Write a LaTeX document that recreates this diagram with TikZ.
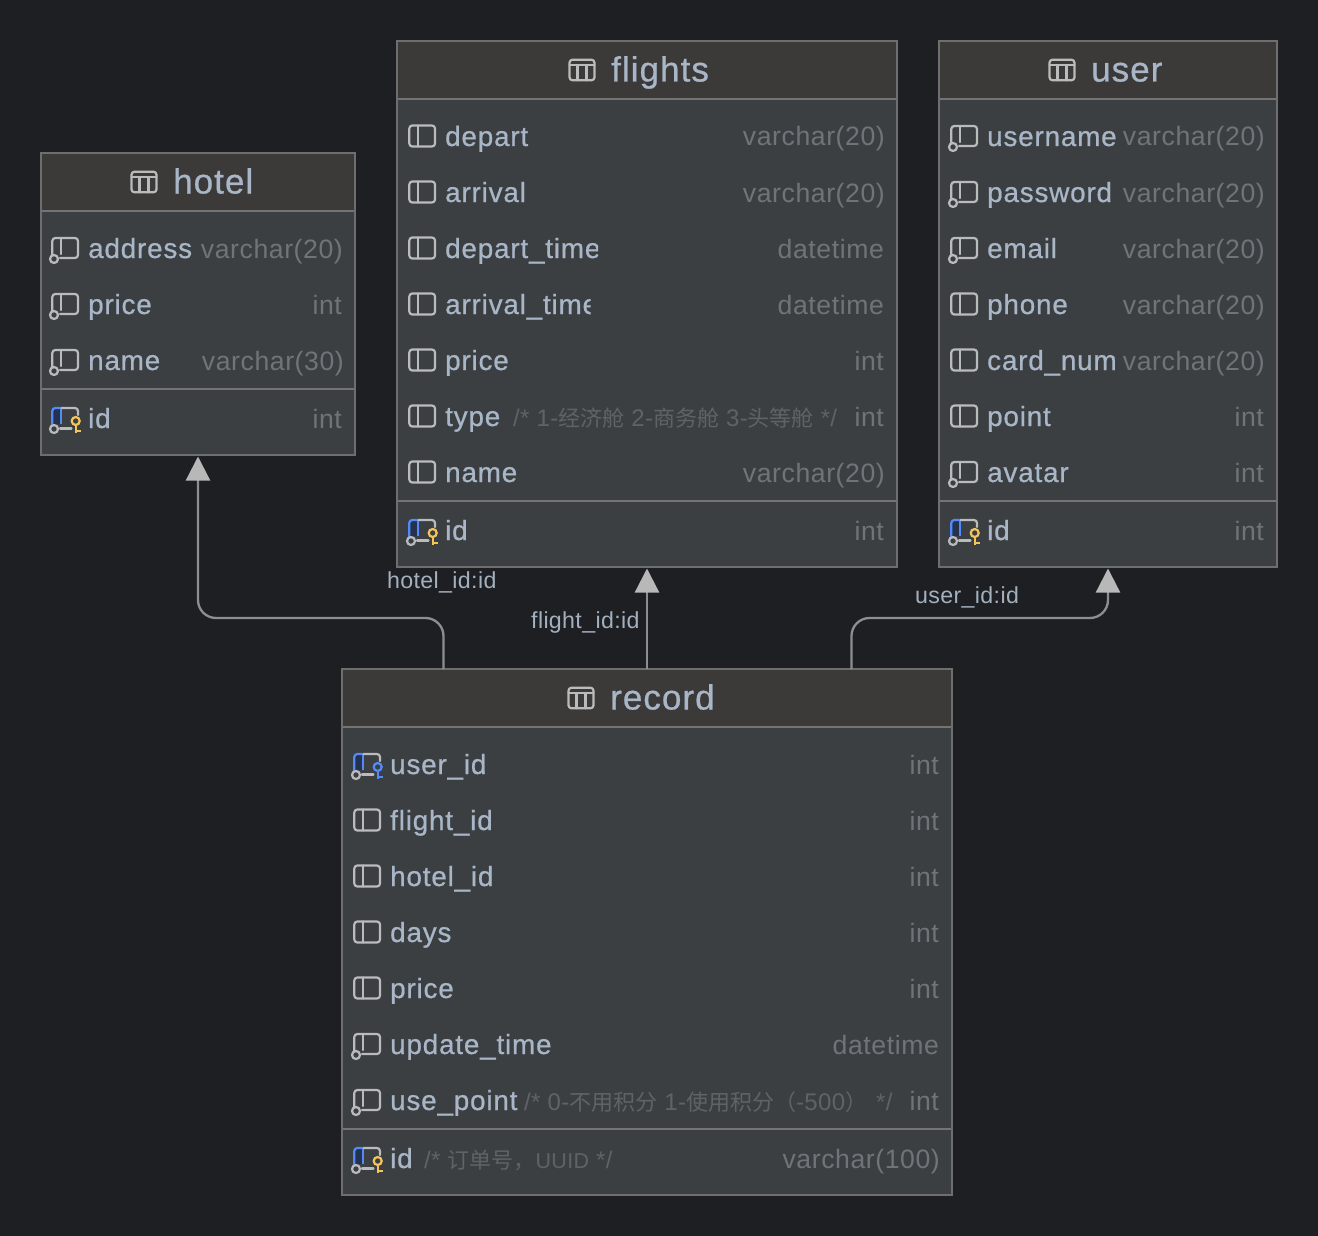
\documentclass[tikz,border=0pt]{standalone}
\usepackage{fontspec}
\usetikzlibrary{arrows.meta,calc}
\setmainfont{Liberation Sans}[LetterSpace=1.5]
\newfontfamily\cjk{Noto Sans CJK SC}
\newfontfamily\heavy{Liberation Sans}[LetterSpace=3,FakeBold=0.7]
\newfontfamily\typef{Liberation Sans}[LetterSpace=2.2]
\newfontfamily\lat{Liberation Sans}[LetterSpace=1.5]
\definecolor{bgc}{HTML}{1E1F22}
\definecolor{bodyc}{HTML}{3C3F42}
\definecolor{headc}{HTML}{3B3A39}
\definecolor{edgec}{HTML}{6E6E6E}
\definecolor{sepc}{HTML}{747474}
\definecolor{namec}{HTML}{A8B6C7}
\definecolor{typec}{HTML}{70747A}
\definecolor{notec}{HTML}{5F6368}
\definecolor{labelc}{HTML}{A3B0BF}
\definecolor{iconc}{HTML}{BABBBD}
\definecolor{bluec}{HTML}{548AF7}
\definecolor{bluef}{HTML}{25324D}
\definecolor{keyc}{HTML}{F2C55C}
\definecolor{linec}{HTML}{8E8E8E}
\definecolor{tipc}{HTML}{B8B8B8}
\tikzset{
  x=1pt,y=-1pt,
  tablebox/.style={draw=edgec,fill=bodyc,line width=2pt,rectangle,inner sep=0pt,outer sep=0pt},
  ttl/.style={anchor=base west,inner sep=0pt,text=namec,font=\fontsize{35}{38}\heavy},
  colname/.style={anchor=base west,inner sep=0pt,text=namec,font=\fontsize{27.8}{32}\heavy},
  coltype/.style={anchor=base east,inner sep=0pt,text=typec,font=\fontsize{26.6}{32}\typef},
  colnote/.style={anchor=base west,inner sep=0pt,text=notec,font=\fontsize{24}{30}\lat},
  linklabel/.style={anchor=base west,inner sep=0pt,text=labelc,font=\fontsize{23.2}{30}\lat},
  ic/.style={draw=iconc,line width=2.2pt,line cap=round,line join=round},
  link/.style={draw=linec,line width=2.3pt,-{Triangle[width=24pt,length=24pt,color=tipc,fill=tipc]},shorten >=1.5pt},
}
\newcounter{nn}
\newcommand\icoplain[2]{\begin{scope}[shift={(#1,#2)}]
  \draw[ic,rounded corners=3pt] (1.3,-11.5) rectangle (27,9.5);
  \draw[ic] (9.7,-11.5) -- (9.7,9.5);
\end{scope}}
\newcommand\iconull[2]{\begin{scope}[shift={(#1,#2)}]
  \draw[ic,rounded corners=3pt] (1.3,6) -- (1.3,-11) -- (27,-11) -- (27,9) -- (9,9);
  \draw[ic] (9.7,-11) -- (9.7,5);
  \draw[ic,fill=bodyc] (3,10) circle[radius=4];
\end{scope}}
\newcommand\icokey[4]{\begin{scope}[shift={(#1,#2)}]
  \fill[bluef] (1.3,-10) rectangle (9.7,5);
  \draw[draw=bluec,line width=2.2pt,rounded corners=3pt] (1.3,6) -- (1.3,-11) -- (9.7,-11);
  \draw[draw=bluec,line width=2.2pt] (9.7,-11) -- (9.7,5);
  \draw[ic,rounded corners=3pt] (10.5,-11) -- (27,-11) -- (27,-4);
  \draw[ic] (9,9.5) -- (20.5,9.5);
  \draw[ic,fill=bodyc] (3,10) circle[radius=4];
  \draw[draw=#3,line width=2.2pt,fill=#4] (24.7,2) circle[radius=4];
  \draw[draw=#3,line width=2.2pt] (24.7,6) -- (24.7,14) (24.7,12.3) -- (30,12.3);
\end{scope}}
\newcommand\tbl[9]{% name x1 y1 x2 y2 ysep iconx titlex title
  \node[tablebox,minimum width=\the\numexpr#4-#2\relax pt,minimum height=\the\numexpr#5-#3\relax pt] (#1) at ({(#2+#4)/2},{(#3+#5)/2}) {};
  \fill[headc] (#2+1,#3+1) rectangle (#4-1,#3+57);
  \draw[sepc,line width=2pt] (#2+1,#3+58) -- (#4-1,#3+58);
  \draw[sepc,line width=2pt] (#2+1,#6) -- (#4-1,#6);
  \begin{scope}[shift={(#7,#3+29)}]
    \draw[ic,rounded corners=3pt] (1,-10.3) rectangle (26,10.3);
    \draw[ic] (1,-5) -- (26,-5) (9,-5) -- (9,10.3) (18,-5) -- (18,10.3);
  \end{scope}
  \node[ttl] (#1-title) at (#8,#3+40.5) {#9};
}
\newcommand\namedrow[6]{% icon-code textx y name typex type
  \stepcounter{nn}%
  \node[colname] (col\thenn) at (#2,#3+9) {#4};
  \node[coltype] (typ\thenn) at (#5,#3+9) {#6};
  \pgfmathsetmacro\ix{#2-37}
  \csname ico#1\endcsname{\ix}{#3}
}
\newcommand\cutrow[7]{% as \namedrow, last: x where the name is cut
  \stepcounter{nn}%
  \begin{scope}
    \clip (#2-2,#3-24) rectangle (#7,#3+24);
    \node[colname] (col\thenn) at (#2,#3+9) {#4};
  \end{scope}
  \node[coltype] (typ\thenn) at (#5,#3+9) {#6};
  \pgfmathsetmacro\ix{#2-37}
  \csname ico#1\endcsname{\ix}{#3}
}
\newcommand\pkrow[5]{\stepcounter{nn}%
  \node[colname] (col\thenn) at (#1,#2+9) {#3};
  \node[coltype] (typ\thenn) at (#4,#2+9) {#5};
  \pgfmathsetmacro\ix{#1-37}
  \icokey{\ix}{#2}{keyc}{bodyc}
}
\newcommand\note[3]{\stepcounter{nn}\node[colnote] (note\thenn) at (#1,#2+9) {#3};}
\newcommand\hz[1]{{\cjk\fontsize{22}{26}\selectfont #1}}
\begin{document}
\begin{tikzpicture}
\useasboundingbox (0,0) rectangle (1318,1236);
\fill[bgc] (0,0) rectangle (1318,1236);

\tbl{hotel}{41}{153}{355}{455}{389}{130.5}{173}{hotel}
\namedrow{null}{88}{249}{address}{343}{varchar(20)}
\namedrow{null}{88}{305}{price}{342}{int}
\namedrow{null}{88}{361}{name}{344}{varchar(30)}
\pkrow{88}{419}{id}{342}{int}

\tbl{flights}{397}{41}{897}{567}{501}{568.5}{611}{flights}
\namedrow{plain}{445}{137}{depart}{885}{varchar(20)}
\cutrow{plain}{445}{193}{arrival}{885}{varchar(20)}{524.5}
\cutrow{plain}{445}{249}{depart\_time}{884}{datetime}{598}
\cutrow{plain}{445}{305}{arrival\_time}{884}{datetime}{590.5}
\namedrow{plain}{445}{361}{price}{884}{int}
\namedrow{plain}{445}{417}{type}{884}{int}
\note{513}{417}{/* 1-\hz{经济舱} 2-\hz{商务舱} 3-\hz{头等舱} */}
\namedrow{plain}{445}{473}{name}{885}{varchar(20)}
\pkrow{445}{531}{id}{884}{int}

\tbl{user}{939}{41}{1277}{567}{501}{1048.5}{1091}{user}
\namedrow{null}{987}{137}{username}{1265}{varchar(20)}
\namedrow{null}{987}{193}{password}{1265}{varchar(20)}
\namedrow{null}{987}{249}{email}{1265}{varchar(20)}
\namedrow{plain}{987}{305}{phone}{1265}{varchar(20)}
\namedrow{plain}{987}{361}{card\_num}{1265}{varchar(20)}
\namedrow{plain}{987}{417}{point}{1264}{int}
\namedrow{null}{987}{473}{avatar}{1264}{int}
\pkrow{987}{531}{id}{1264}{int}

\tbl{record}{342}{669}{952}{1195}{1129}{567.5}{610}{record}
\node[colname] (fkname) at (390,765+9) {user\_id};
\node[coltype] (fktype) at (939,765+9) {int};
\icokey{353}{765}{bluec}{bodyc}
\namedrow{plain}{390}{821}{flight\_id}{939}{int}
\namedrow{plain}{390}{877}{hotel\_id}{939}{int}
\namedrow{plain}{390}{933}{days}{939}{int}
\namedrow{plain}{390}{989}{price}{939}{int}
\namedrow{null}{390}{1045}{update\_time}{939}{datetime}
\namedrow{null}{390}{1101}{use\_point}{939}{int}
\note{524}{1101}{/* 0-\hz{不用积分} 1-\hz{使用积分（}-500\hz{）}\hspace{2pt} */}
\pkrow{390}{1159}{id}{940}{varchar(100)}
\note{424}{1159}{/* \hz{订单号，}{\fontsize{21.5}{26}\selectfont UUID} */}

\draw[link,rounded corners=18pt] ($(record.north west)+(101.5,0)$) coordinate (hout) -- (hout |- 0,618) -- (hotel.south |- 0,618) -- (hotel.south);
\draw[link] (record.north) -- (flights.south);
\draw[link,rounded corners=18pt] ($(record.north west)+(509.5,0)$) coordinate (uout) -- (uout |- 0,618) -- (user.south |- 0,618) -- (user.south);

\node[linklabel] (lhotel) at (387,588) {hotel\_id:id};
\node[linklabel] (lflight) at (531,628) {flight\_id:id};
\node[linklabel] (luser) at (915,603) {user\_id:id};
\end{tikzpicture}
\end{document}
